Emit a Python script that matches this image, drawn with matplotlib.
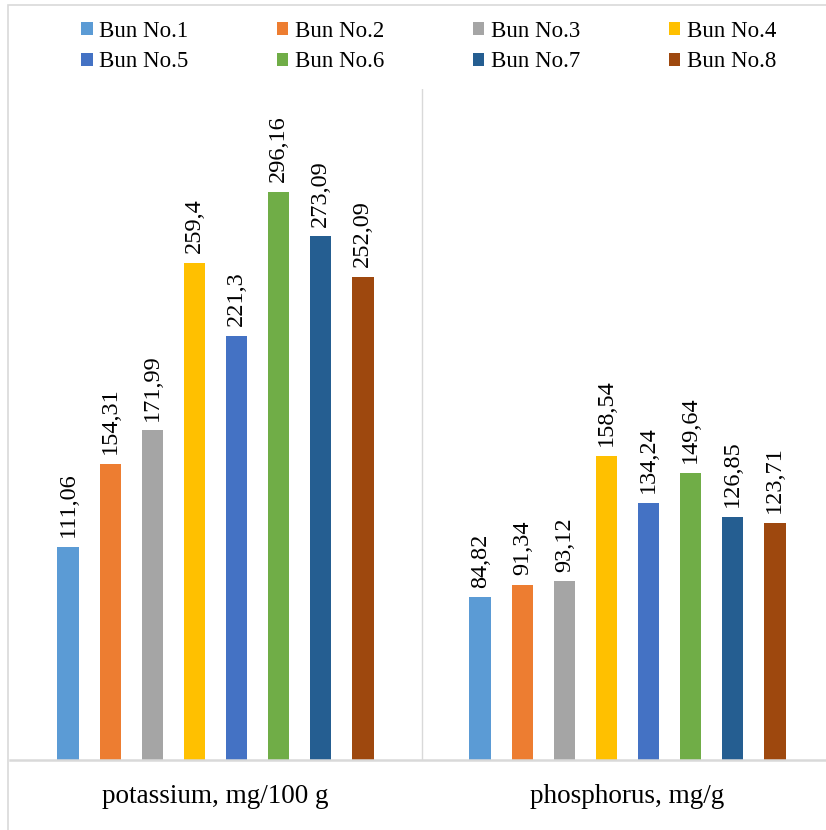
import matplotlib
matplotlib.use("Agg")
import matplotlib.pyplot as plt
from matplotlib.patches import Rectangle, Patch
import numpy as np

plt.rcParams['font.family'] = ['Liberation Serif', 'DejaVu Serif']

categories = ["potassium, mg/100 g", "phosphorus, mg/g"]
series = ["Bun No.1", "Bun No.2", "Bun No.3", "Bun No.4",
          "Bun No.5", "Bun No.6", "Bun No.7", "Bun No.8"]
potassium = [111.06, 154.31, 171.99, 259.4, 221.3, 296.16, 273.09, 252.09]
phosphorus = [84.82, 91.34, 93.12, 158.54, 134.24, 149.64, 126.85, 123.71]
colors = ["#5B9BD5", "#ED7D31", "#A5A5A5", "#FFC000",
          "#4472C4", "#70AD47", "#255E91", "#9E480E"]

W, H = 826, 830
fig = plt.figure(figsize=(W / 100, H / 100), dpi=100)

# light outer frame
fig.patches.append(Rectangle((8 / W, -0.1), 1.2, (H - 5) / H + 0.1,
                             transform=fig.transFigure, fill=False,
                             edgecolor="#d9d9d9", linewidth=1.2))

ax = fig.add_axes([9.5 / W, 70 / H, 824 / W, 671 / H])
x = np.arange(len(categories))
step = 0.102
width = 0.053
for i, name in enumerate(series):
    vals = [potassium[i], phosphorus[i]]
    bars = ax.bar(x + (i - 3.5) * step, vals, width, color=colors[i], label=name)
    ax.bar_label(bars, labels=[str(v).replace('.', ',') for v in vals],
                 rotation=90, padding=7, fontsize=17.5)

ax.set_xlim(-0.5, 1.5)
ax.set_ylim(0, 350)
ax.set_yticks([])
ax.set_xticks(x)
ax.set_xticklabels(categories, fontsize=19.5)
ax.tick_params(axis='x', length=0, pad=17)
for s in ["top", "left", "right"]:
    ax.spines[s].set_visible(False)
ax.spines["bottom"].set_color("#d9d9d9")
ax.spines["bottom"].set_linewidth(1.8)
ax.axvline(0.5, color="#d9d9d9", linewidth=1.0)

# legend fills column by column, so order handles to read across rows
handles = [Patch(facecolor=c, label=n) for c, n in zip(colors, series)]
order = [0, 4, 1, 5, 2, 6, 3, 7]
fig.legend(handles=[handles[k] for k in order], ncol=4, loc="upper center",
           bbox_to_anchor=(0.519, 1.0), frameon=False, fontsize=16.5,
           handlelength=0.5, handleheight=0.5, handletextpad=0.3,
           columnspacing=3.85, labelspacing=0.42)

fig.savefig("out.png", dpi=100)
